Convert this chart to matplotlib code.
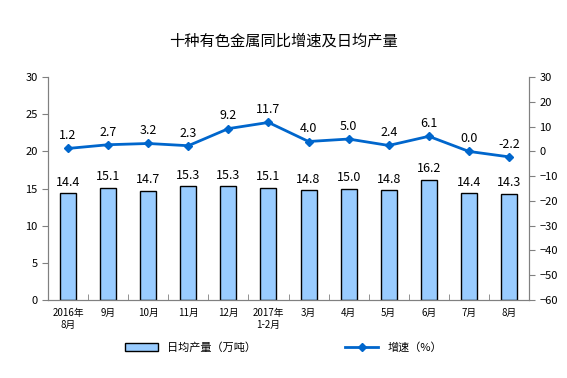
import numpy as np
import matplotlib.pyplot as plt

plt.rcParams['font.family'] = ['Noto Sans CJK SC', 'DejaVu Sans']

months = ['2016年\n8月', '9月', '10月', '11月', '12月', '2017年\n1-2月',
          '3月', '4月', '5月', '6月', '7月', '8月']
output = [14.4, 15.1, 14.7, 15.3, 15.3, 15.1, 14.8, 15.0, 14.8, 16.2, 14.4, 14.3]
growth = [1.2, 2.7, 3.2, 2.3, 9.2, 11.7, 4.0, 5.0, 2.4, 6.1, 0.0, -2.2]

fig = plt.figure(figsize=(5.67, 3.78), dpi=100)
ax = fig.add_axes([0.0847, 0.2063, 0.8483, 0.5897])
ax2 = ax.twinx()

x = np.arange(len(months))
bars = ax.bar(x, output, width=0.4, color='#99CCFF', edgecolor='black',
              linewidth=1, label='日均产量（万吨）')
for xi, v in zip(x, output):
    ax.text(xi, v + 0.6, f'{v:.1f}', ha='center', va='bottom', fontsize=9)

line, = ax2.plot(x, growth, color='#0066CC', lw=2, marker='D', ms=4,
                 label='增速（%）')
for xi, v in zip(x, growth):
    ax2.text(xi, v + 2.5, f'{v:.1f}', ha='center', va='bottom', fontsize=9)

ax.set_xlim(-0.5, len(months) - 0.5)
ax.set_ylim(0, 30)
ax.set_yticks(range(0, 31, 5))
ax2.set_ylim(-60, 30)
ax2.set_yticks(range(-60, 31, 10))

ax.set_xticks(x)
ax.set_xticklabels(months, fontsize=7)
ax.set_xticks(np.arange(-0.5, len(months), 1), minor=True)
ax.tick_params(axis='x', which='major', length=0, pad=6)
ax.tick_params(axis='x', which='minor', length=4, color='#808080', direction='in')
ax.tick_params(axis='y', labelsize=8, color='#808080', length=4)
ax2.tick_params(axis='y', labelsize=8, color='#808080', length=4)

for a in (ax, ax2):
    a.spines['top'].set_visible(False)
    for s in ('left', 'right', 'bottom'):
        a.spines[s].set_color('#808080')

fig.text(0.5, 0.88, '十种有色金属同比增速及日均产量', ha='center', fontsize=11)

fig.legend([bars, line], ['日均产量（万吨）', '增速（%）'], loc='lower center',
           bbox_to_anchor=(0.5, 0.04), ncol=2, frameon=False, fontsize=8,
           columnspacing=8, handlelength=3)

fig.savefig('out.png', dpi=100)
